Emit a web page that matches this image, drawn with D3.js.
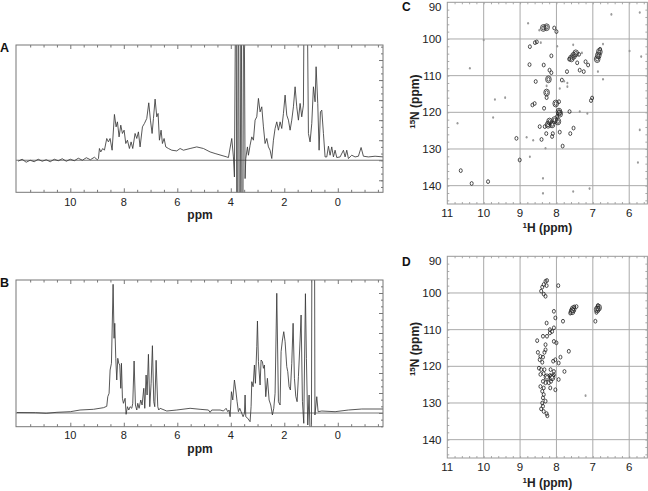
<!DOCTYPE html>
<html><head><meta charset="utf-8">
<script src="https://cdn.jsdelivr.net/npm/d3@7"></script>
<style>body{margin:0;background:#fff}svg{display:block}text{font-family:"Liberation Sans",Arial,Helvetica,sans-serif}</style>
</head><body><svg id="c" width="648" height="491"></svg>
<script>
// ---------- DATA ----------
const ppmTicks = [10, 8, 6, 4, 2, 0];
const hTicks = [11, 10, 9, 8, 7, 6];
const nTicks = [90, 100, 110, 120, 130, 140];

// 1D spectrum A : [ppm, intensity]
const specA = [
[11.95,-1],[11.8,1],[11.65,-2],[11.5,0],[11.35,-1.5],[11.2,1],[11.05,-1],[10.9,0.5],[10.75,-1.5],[10.6,1],
[10.45,-0.5],[10.3,1.5],[10.15,-1],[10.0,1],[9.85,-0.5],[9.7,2],[9.55,0],[9.4,2.5],[9.25,0.5],[9.1,3],[8.99,0.5],[8.948,1.7],
[8.911,11.7],[8.861,8.3],[8.786,11.7],[8.724,10],[8.637,21.7],[8.575,18.3],[8.512,21.7],[8.437,10],[8.35,45.7],[8.288,33.3],
[8.238,38.3],[8.176,23.3],[8.113,35],[8.051,26.7],[7.989,30],[7.926,16.7],[7.864,20],[7.79,11.7],[7.727,18.3],[7.665,11.7],
[7.578,26.7],[7.515,21.7],[7.453,28.3],[7.391,13.3],[7.303,33.3],[7.229,36.7],[7.141,41.7],[7.067,57.3],[7.004,40],[6.942,26.7],
[6.892,41.7],[6.83,61],[6.767,43.3],[6.718,46.7],[6.668,20],[6.606,30],[6.556,16.7],[6.493,21.7],[6.431,13.3],[6.331,11.7],
[6.207,10],[6.02,9.3],[5.895,11.7],[5.771,10],[5.522,11.7],[5.272,13.3],[5.023,11.7],[4.774,8.3],[4.587,6.7],[4.151,3.3],
[4.089,2.7],[3.964,21.7],[3.902,3.3],[3.864,-16.7],[3.802,250],[3.764,-250],[3.715,250],[3.665,-250],[3.615,250],[3.565,-250],
[3.515,250],[3.466,-18.3],[3.44,1.7],[3.378,13.3],[3.341,5],[3.279,15],[3.216,23.3],[3.154,20],[3.092,40],[3.029,43.3],
[2.967,61.7],[2.905,48.3],[2.842,53.3],[2.78,33.3],[2.718,16.7],[2.655,21.7],[2.593,13.3],[2.531,10],[2.468,1.7],[2.406,20],
[2.344,31.7],[2.281,38.3],[2.219,30],[2.157,38.3],[2.095,31.7],[2.032,46.7],[1.97,65],[1.908,45],[1.845,40],[1.783,30],
[1.721,40],[1.659,53.3],[1.596,73.3],[1.534,53.3],[1.472,40],[1.409,56.7],[1.347,43.3],[1.285,55],[1.24,250],[1.17,250],
[1.098,26.7],[1.036,18.3],[0.973,36.7],[0.911,73.3],[0.849,58.3],[0.811,93.3],[0.749,56.7],[0.699,10],[0.649,48.3],[0.599,50],
[0.537,26.7],[0.475,3.3],[0.412,3.3],[0.35,14],[0.288,5],[0.226,13.3],[0.163,3.3],[0.101,10],[0.039,2.7],[-0.086,3.3],
[-0.211,10],[-0.273,3.3],[-0.335,10],[-0.397,1.7],[-0.522,5],[-0.647,3.3],[-0.771,4],[-0.871,12.7],[-0.958,4],[-1.145,3.3],
[-1.394,4],[-1.706,3.3]
];

// 1D spectrum B : [ppm, intensity]
const specB = [
[12.0,0.5],[11.3,0.3],[10.9,-0.3],[10.5,0.7],[10.0,1.3],[9.634,3],[9.135,3.7],[8.761,5.3],[8.637,6.7],[8.599,16.3],
[8.55,19.7],[8.512,43],[8.462,49.7],[8.4,128.7],[8.363,74.7],[8.338,89.7],[8.3,54.7],[8.263,33],[8.225,54.7],[8.188,49.7],
[8.151,48],[8.113,24.7],[8.088,49.7],[8.051,14.7],[8.014,9.7],[7.951,14.7],[7.914,-1.3],[7.864,6.3],[7.814,3],[7.765,6.3],
[7.702,4.7],[7.665,9.7],[7.615,52],[7.565,8],[7.515,3],[7.478,9.7],[7.428,4.7],[7.366,13],[7.316,8],[7.253,24.7],
[7.216,4.7],[7.166,38],[7.129,18],[7.079,58.7],[7.029,6.3],[6.979,29.7],[6.93,67.3],[6.88,11.3],[6.842,6.3],[6.792,52.7],
[6.73,6.3],[6.693,3],[6.643,4.7],[6.394,2],[6.02,3],[5.522,4.7],[5.148,3.7],[4.836,3],[4.774,0.7],[4.711,3],
[4.4,3],[4.275,2],[4.176,4.7],[4.113,1.3],[4.064,3],[4.026,-3.7],[3.976,21.3],[3.926,13],[3.864,33],[3.814,23],
[3.764,11.3],[3.715,1.3],[3.665,4.7],[3.615,1.3],[3.54,-3.7],[3.49,-0.3],[3.466,18],[3.44,-3.7],[3.366,-5.3],[3.279,-8.7],
[3.241,6.7],[3.216,31.3],[3.166,26.3],[3.117,48],[3.079,29.7],[3.029,66.3],[3.004,92],[2.967,51.3],[2.905,28],[2.867,53],
[2.818,51.3],[2.78,44.7],[2.743,48],[2.693,16.3],[2.631,34.7],[2.568,13],[2.506,8],[2.444,-2],[2.394,4.7],[2.344,19.7],
[2.281,119.7],[2.219,11.3],[2.157,8],[2.12,61.3],[2.07,73],[2.02,81.3],[1.97,71.3],[1.908,46.3],[1.87,41.3],[1.821,26.3],
[1.771,23],[1.721,49.7],[1.671,89.7],[1.621,34.7],[1.571,16.7],[1.521,11.3],[1.472,36.3],[1.409,73],[1.372,98],[1.322,11.3],
[1.272,-10.3],[1.21,119.3],[1.173,54.3],[1.123,-12],[1.073,18],[1.036,-20],[0.986,-20],[0.96,250],[0.875,250],[0.855,-2],
[0.786,16.3],[0.736,1.3],[0.599,2],[0.101,1.3],[-0.397,3],[-0.896,4],[-1.706,4]
];

// 2D HSQC C : [1H ppm, 15N ppm, contour level]
const hsqcC = [
[8.36,97.0,3],[8.27,96.8,3],[8.06,97.0,2],[8.0,98.0,2],[8.47,97.6,1],[8.78,95.7,1],
[8.73,102.1,2],[8.59,101.0,2],[8.54,100.8,2],[8.43,101.0,1],[7.98,102.0,1],[8.14,104.6,2],[7.54,101.6,1],
[7.47,103.9,3],[7.53,104.6,3],[7.59,105.3,3],[7.65,105.5,2],[7.43,106.5,2],[7.38,104.2,2],[7.30,103.8,1],
[6.88,105.5,3],[6.85,104.5,3],[6.82,103.5,3],[6.80,102.8,2],[6.72,101.4,1],
[7.13,107.1,2],[7.20,106.2,2],[7.36,108.5,2],[7.25,108.9,2],[7.71,108.9,2],[6.86,108.9,1],
[8.74,107.0,2],[8.35,107.1,2],[8.19,108.5,2],[8.14,109.2,2],[8.22,111.0,3],[8.57,111.6,2],
[7.85,111.2,2],[7.79,111.5,1],[7.70,112.0,1],[6.72,111.0,1],[8.27,112.8,1],[7.91,113.5,1],[7.70,113.0,1],
[8.27,114.6,3],[8.27,116.0,2],[7.02,116.1,2],[7.05,116.8,2],[9.69,116.5,1],[9.41,116.0,1],
[8.66,118.0,2],[8.60,117.6,2],[8.34,118.9,2],[8.02,117.6,3],[7.93,117.1,2],
[7.93,119.8,3],[7.91,120.4,3],[7.98,121.1,2],[7.64,119.8,2],[7.36,119.8,1],[7.15,120.3,1],[9.74,121.4,1],
[8.19,122.5,3],[8.05,122.1,3],[7.96,122.5,3],[8.23,123.4,3],[8.12,123.3,3],[8.32,123.9,2],[8.46,123.9,2],
[8.28,125.8,2],[8.10,125.8,2],[8.12,126.6,2],[7.91,125.4,2],[7.53,124.3,2],[7.62,125.8,2],
[9.10,127.1,2],[8.64,127.6,1],[8.41,127.4,2],[8.82,126.8,1],[7.83,129.2,2],[8.30,129.8,1],
[9.01,133.0,2],[8.73,132.1,1],[10.63,135.9,2],[10.33,139.4,2],[9.88,138.9,2],
[10.72,123.0,1],[10.38,108.0,1],[10.0,100.3,1],[5.71,92.8,1],[6.49,93.3,1],[5.99,103.3,1],
[5.67,104.8,1],[5.71,124.8,1],[5.76,133.7,1],[7.54,141.6,1],[8.37,142.1,1],[8.37,138.0,1],[7.09,140.8,1]
];

// 2D HSQC D : [1H ppm, 15N ppm, contour level]
const hsqcD = [
[8.30,96.8,2],[8.26,96.6,2],[8.35,97.7,2],[8.27,98.0,2],[8.39,98.4,2],[8.42,99.5,2],[8.35,100.3,2],[8.30,100.9,2],
[7.95,98.0,2],[8.07,105.0,2],[8.03,106.8,2],[7.82,107.7,2],
[7.62,105.5,2],[7.57,105.0,3],[7.54,104.4,3],[7.51,103.8,2],[7.45,103.7,2],
[6.90,105.3,2],[6.88,104.5,3],[6.84,104.0,3],[6.86,103.4,2],[6.93,107.7,2],
[8.27,108.2,2],[8.18,110.0,2],[8.12,110.5,2],[8.18,110.9,2],[8.07,109.5,2],[8.37,111.8,2],[8.26,111.8,2],
[8.53,113.0,2],[8.30,114.1,2],[8.07,113.2,2],[8.00,113.6,2],[8.30,115.5,2],[8.33,116.2,2],[7.66,115.9,2],
[8.51,116.2,2],[8.44,117.3,2],[8.37,117.5,2],[8.46,118.2,2],[8.39,118.9,2],
[8.09,118.6,2],[8.03,118.2,2],[7.89,117.5,2],[7.94,119.1,2],
[8.48,120.5,2],[8.42,120.9,2],[8.33,120.9,2],[8.16,120.9,2],[8.07,121.4,2],[7.78,121.4,2],
[8.44,122.2,2],[8.35,122.0,2],[8.26,123.0,3],[8.18,122.5,2],[8.12,123.0,3],[8.07,122.3,2],
[8.37,124.1,2],[8.30,124.5,2],[8.21,124.5,2],[8.15,124.1,2],[8.44,125.5,2],[8.35,125.9,2],[8.17,125.9,2],
[7.94,123.6,2],[8.03,126.4,2],[8.39,126.8,2],[8.35,127.7,2],[8.37,128.6,2],[7.20,128.0,1],
[8.30,129.5,2],[8.39,130.0,2],[8.37,130.9,2],[8.42,131.6,2],[8.35,132.3,2],[8.27,132.9,2],[8.25,133.5,2]
];

// ---------- DRAW ----------
const svg = d3.select("#c");
const AX = "#777", TXT = "#222";

function spectrum(cfg){
  const {data, y0, y1, yDom, id, letterY, labY, titleY, letter} = cfg;
  const x = d3.scaleLinear().domain([12.03, -1.69]).range([16, 383]);
  const y = d3.scaleLinear().domain(yDom).range([y1, y0]);
  const g = svg.append("g");
  g.append("clipPath").attr("id", id).append("rect")
    .attr("x", 16).attr("y", y0).attr("width", 367).attr("height", y1 - y0);
  g.append("line").attr("x1", 16).attr("x2", 383).attr("y1", y(0)).attr("y2", y(0))
    .attr("stroke", "#666").attr("stroke-width", 0.9);
  g.append("path").datum(data).attr("clip-path", `url(#${id})`)
    .attr("fill", "none").attr("stroke", "#3a3a3a").attr("stroke-width", 0.85)
    .attr("d", d3.line().x(d => x(d[0])).y(d => y(d[1])));
  const minorX = d3.range(-1.5, 12.01, 0.5).filter(v => Math.abs(v % 2) > 0.01);
  const mk = (axis, tr) => {
    const a = g.append("g").attr("transform", tr).call(axis);
    a.select(".domain").remove();
    a.selectAll("line").attr("stroke", AX);
    a.selectAll("text").remove();
  };
  mk(d3.axisBottom(x).tickValues(ppmTicks).tickSize(-4), `translate(0,${y1})`);
  mk(d3.axisBottom(x).tickValues(minorX).tickSize(-2.5), `translate(0,${y1})`);
  mk(d3.axisTop(x).tickValues(ppmTicks).tickSize(-4), `translate(0,${y0})`);
  mk(d3.axisTop(x).tickValues(minorX).tickSize(-2.5), `translate(0,${y0})`);
  const yMaj = d3.range(-40, 141, 20).filter(v => v >= yDom[0] && v <= yDom[1]);
  const yMin = d3.range(-40, 141, 20/3).filter(v => v >= yDom[0] && v <= yDom[1]);
  mk(d3.axisRight(y).tickValues(yMaj).tickSize(-4), `translate(383,0)`);
  mk(d3.axisRight(y).tickValues(yMin).tickSize(-2), `translate(383,0)`);
  g.append("rect").attr("x", 16).attr("y", y0).attr("width", 367).attr("height", y1 - y0)
    .attr("fill", "none").attr("stroke", AX).attr("stroke-width", 1);
  g.selectAll(".tl").data(ppmTicks).join("text").attr("x", d => x(d)).attr("y", labY)
    .attr("text-anchor", "middle").attr("font-size", 11).attr("fill", TXT).text(d => d);
  g.append("text").attr("x", 200).attr("y", titleY).attr("text-anchor", "middle")
    .attr("font-size", 12).attr("font-weight", "bold").attr("fill", TXT).text("ppm");
  g.append("text").attr("x", 0).attr("y", letterY).attr("font-size", 12.5)
    .attr("font-weight", "bold").attr("fill", "#111").text(letter);
}

spectrum({data: specA, y0: 45, y1: 192.3, yDom: [-32, 115], id: "clipA", letter: "A", letterY: 52, labY: 205.7, titleY: 218.5});
spectrum({data: specB, y0: 280, y1: 426.7, yDom: [-13.7, 133], id: "clipB", letter: "B", letterY: 287.3, labY: 439.2, titleY: 453});

function hsqc(cfg){
  const {data, y0, y1, letter, letterY, labY, titleY, nTitleY} = cfg;
  const x0 = 447.3, x1 = 647.4;
  const x = d3.scaleLinear().domain([11, 5.5]).range([x0, x1]);
  const y = d3.scaleLinear().domain([90, 145]).range([y0, y1]);
  const g = svg.append("g");
  g.selectAll(".gv").data(hTicks.filter(d => d < 11)).join("line")
    .attr("x1", d => x(d)).attr("x2", d => x(d)).attr("y1", y0).attr("y2", y1)
    .attr("stroke", "#aaa").attr("stroke-width", 1);
  g.selectAll(".gh").data(nTicks.filter(d => d > 90)).join("line")
    .attr("x1", x0).attr("x2", x1).attr("y1", d => y(d)).attr("y2", d => y(d))
    .attr("stroke", "#aaa").attr("stroke-width", 1);
  const mk = (axis, tr) => {
    const a = g.append("g").attr("transform", tr).call(axis);
    a.select(".domain").remove();
    a.selectAll("line").attr("stroke", "#aaa");
    a.selectAll("text").remove();
  };
  const hMin = d3.range(5.6, 11, 0.2);
  const nMin = d3.range(92, 145, 2);
  mk(d3.axisTop(x).tickValues(hMin).tickSize(-2), `translate(0,${y0})`);
  mk(d3.axisBottom(x).tickValues(hMin).tickSize(-2), `translate(0,${y1})`);
  mk(d3.axisLeft(y).tickValues(nMin).tickSize(-2), `translate(${x0},0)`);
  mk(d3.axisRight(y).tickValues(nMin).tickSize(-2), `translate(${x1},0)`);
  g.append("rect").attr("x", x0).attr("y", y0).attr("width", x1 - x0).attr("height", y1 - y0)
    .attr("fill", "none").attr("stroke", "#999").attr("stroke-width", 1);
  const pk = g.append("g");
  data.forEach(([h, n, l]) => {
    if (l === 1) {
      pk.append("ellipse").attr("cx", x(h)).attr("cy", y(n)).attr("rx", 1).attr("ry", 1.3)
        .attr("fill", "#9a9a9a");
    } else {
      for (let k = 0; k < l - 1; k++) {
        pk.append("ellipse").attr("cx", x(h)).attr("cy", y(n))
          .attr("rx", 1.5 + 1.3 * k).attr("ry", 1.9 + 1.5 * k)
          .attr("fill", "none").attr("stroke", "#222").attr("stroke-width", 0.8);
      }
    }
  });
  g.selectAll(".xl").data(hTicks).join("text").attr("x", d => x(d)).attr("y", labY)
    .attr("text-anchor", "middle").attr("font-size", 11.5).attr("fill", TXT).text(d => d);
  g.selectAll(".yl").data(nTicks).join("text").attr("x", 441.5).attr("y", d => Math.max(y(d), y0 + 4.3))
    .attr("dy", "0.36em").attr("text-anchor", "end").attr("font-size", 11.5).attr("fill", TXT).text(d => d);
  const t = g.append("text").attr("x", (x0 + x1) / 2).attr("y", titleY).attr("text-anchor", "middle")
    .attr("font-size", 12).attr("font-weight", "bold").attr("fill", TXT);
  t.append("tspan").attr("font-size", 8).attr("dy", -4).text("1");
  t.append("tspan").attr("dy", 4).text("H (ppm)");
  const tn = g.append("text").attr("transform", `translate(419,${nTitleY}) rotate(-90)`)
    .attr("text-anchor", "middle").attr("font-size", 12).attr("font-weight", "bold").attr("fill", TXT);
  tn.append("tspan").attr("font-size", 8).attr("dy", -4).text("15");
  tn.append("tspan").attr("dy", 4).text("N (ppm)");
  g.append("text").attr("x", 402).attr("y", letterY).attr("font-size", 12)
    .attr("font-weight", "bold").attr("fill", "#111").text(letter);
}

hsqc({data: hsqcC, y0: 2.3, y1: 204, letter: "C", letterY: 10.8, labY: 216.7, titleY: 231.5, nTitleY: 101.7});
hsqc({data: hsqcD, y0: 256.3, y1: 458, letter: "D", letterY: 266, labY: 471, titleY: 487, nTitleY: 349});
</script></body></html>
